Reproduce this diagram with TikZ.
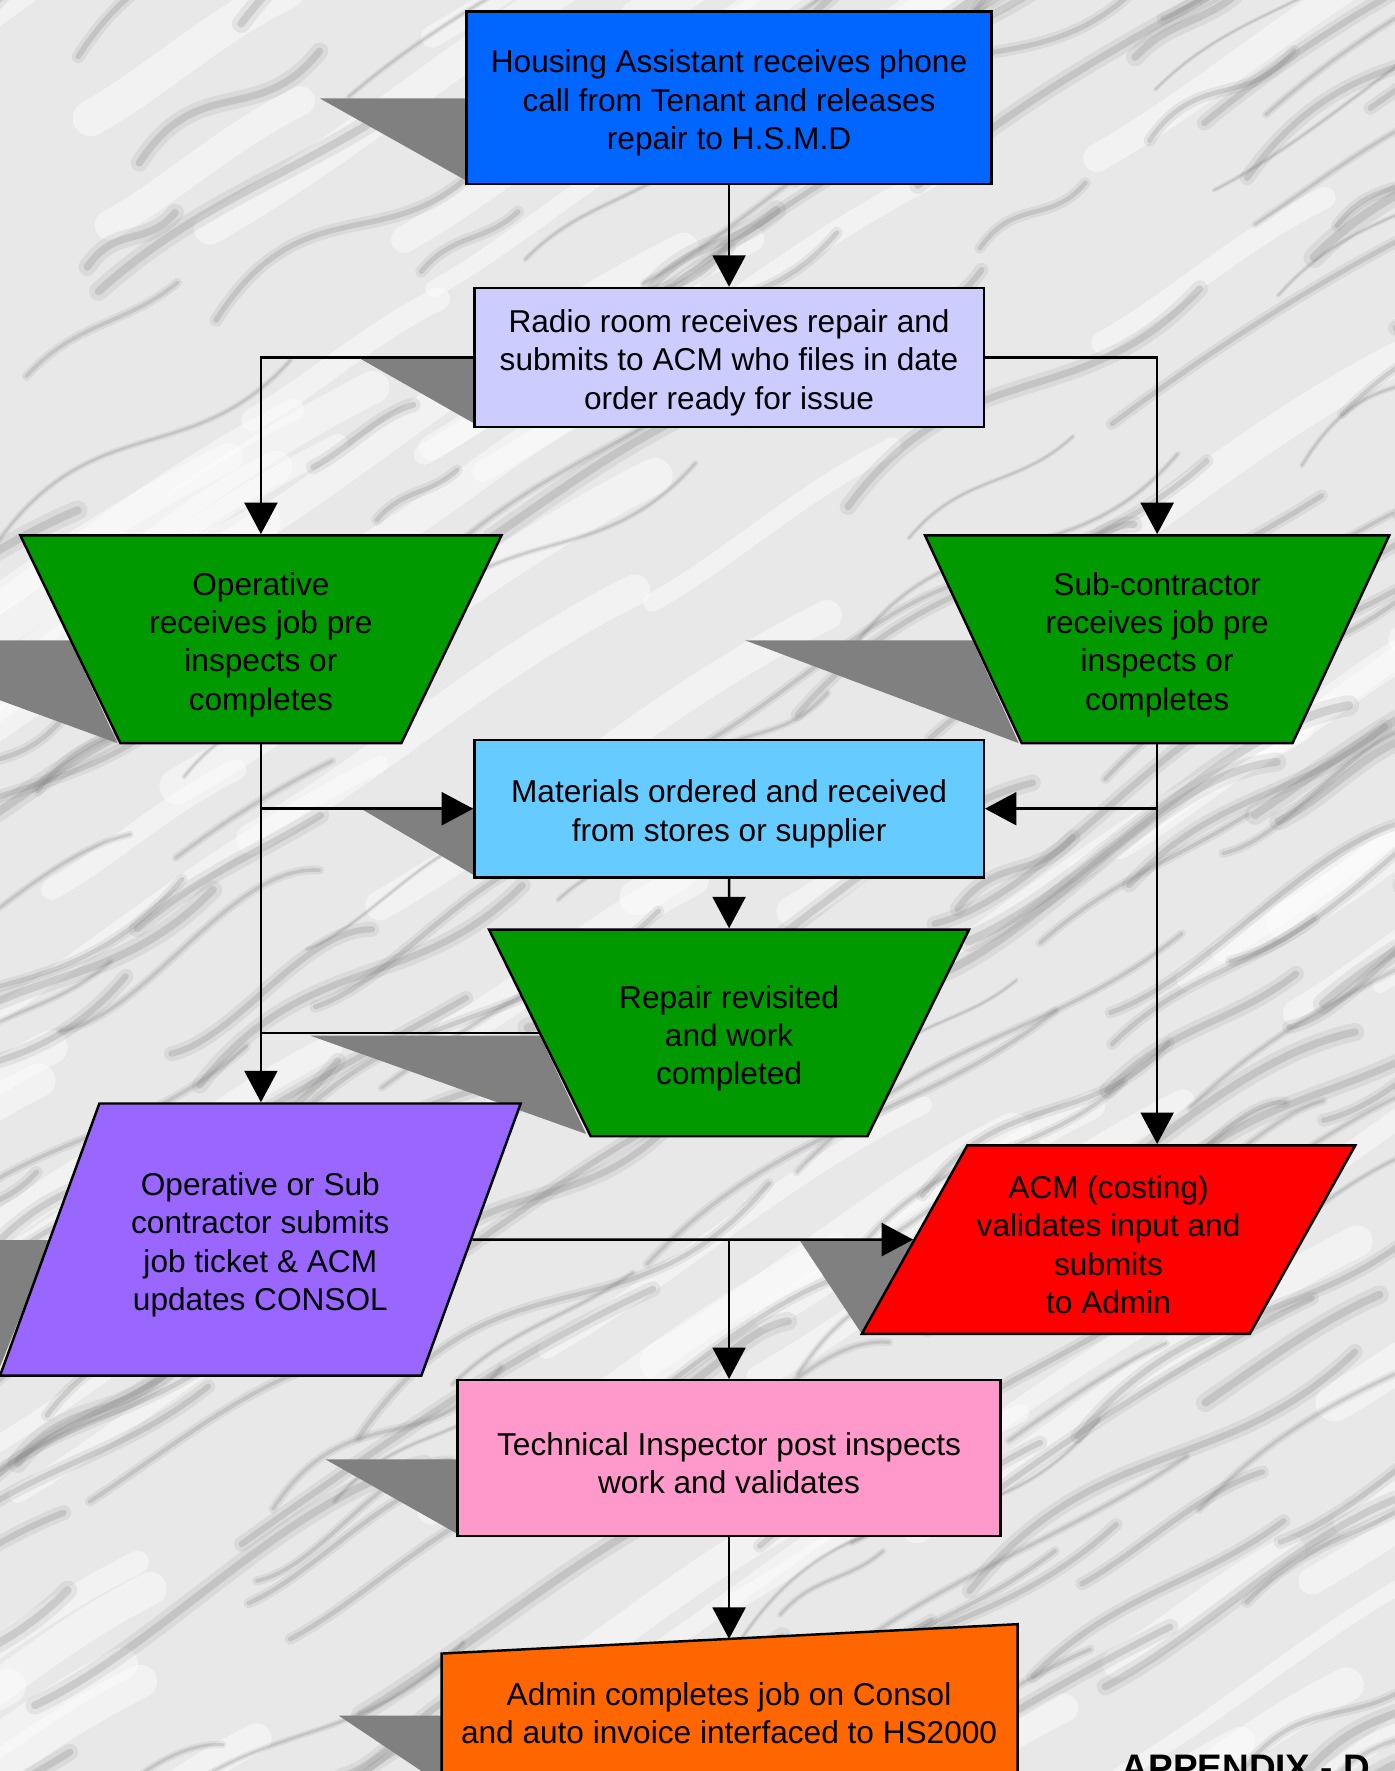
\documentclass[tikz,border=0pt]{standalone}
\usepackage{fontspec}
\setmainfont{Liberation Sans}
\usepackage{tikz}
\usetikzlibrary{shapes.geometric, arrows.meta, positioning}
\definecolor{fcBlue}{RGB}{0,102,255}
\definecolor{fcLav}{RGB}{204,204,255}
\definecolor{fcGreen}{RGB}{0,153,0}
\definecolor{fcSky}{RGB}{102,204,255}
\definecolor{fcPurple}{RGB}{153,102,255}
\definecolor{fcRed}{RGB}{255,0,0}
\definecolor{fcPink}{RGB}{255,153,204}
\definecolor{fcOrange}{RGB}{255,102,0}
\definecolor{fcShadow}{RGB}{128,128,128}
\definecolor{fcMarble}{RGB}{232,232,232}
\definecolor{fcVein}{RGB}{120,120,120}
\newcommand{\px}{0.022592cm}
\newcommand{\topline}{\rule{0pt}{19pt}}

\begin{document}
\begin{tikzpicture}[x=\px, y=-\px,
    box/.style={draw=black, line width=1.4pt, align=center, inner sep=0pt,
                font=\fontsize{18}{21.8}\selectfont},
    procbox/.style={box, rectangle},
    trapbox/.style={box, trapezium, shape border rotate=180, trapezium stretches body},
    databox/.style={box, trapezium, trapezium stretches body},
    shade/.style={fill=fcShadow},
    vein/.style={draw=fcVein, line cap=round},
    glow/.style={draw=white, opacity=0.45, line cap=round},
    flow/.style={line width=1.4pt, -{Triangle[length=0.63cm, width=0.66cm]}},
    link/.style={line width=1.4pt}
  ]
  \useasboundingbox (0,0) rectangle (1235,1568);
  % marble background
  \begin{scope}
    \clip (0,0) rectangle (1235,1568);
    \fill[fcMarble] (0,0) rectangle (1235,1568);
    \pgfmathsetseed{23}
    \foreach \k in {1,...,90} {
      \pgfmathsetmacro{\sx}{rnd*1500-250}
      \pgfmathsetmacro{\sy}{rnd*1800}
      \pgfmathsetmacro{\len}{150+rnd*300}
      \pgfmathsetmacro{\lw}{8+rnd*14}
      \draw[glow, line width=\lw pt] (\sx,\sy)
        .. controls (\sx+\len*0.35,\sy-\len*0.2) and (\sx+\len*0.6,\sy-\len*0.45) ..
        (\sx+\len,\sy-\len*0.65);
    }
    \foreach \k in {1,...,200} {
      \pgfmathsetmacro{\sx}{rnd*1500-250}
      \pgfmathsetmacro{\sy}{rnd*1800}
      \pgfmathsetmacro{\len}{70+rnd*300}
      \pgfmathsetmacro{\lw}{1+rnd*4}
      \pgfmathsetmacro{\bend}{rnd*0.5-0.25}
      \pgfmathsetmacro{\cya}{\sy-\len*(0.3+\bend)}
      \pgfmathsetmacro{\cyb}{\sy-\len*(0.4-\bend)}
      \draw[vein, opacity=0.12, line width=2.4*\lw pt] (\sx,\sy)
        .. controls (\sx+\len*0.33,\cya) and (\sx+\len*0.66,\cyb) ..
        (\sx+\len,\sy-\len*0.62);
      \draw[vein, opacity=0.22, line width=\lw pt] (\sx,\sy)
        .. controls (\sx+\len*0.33,\cya) and (\sx+\len*0.66,\cyb) ..
        (\sx+\len,\sy-\len*0.62);
    }
  \end{scope}

  % shadows
  \fill[shade] (283,87) -- (413,87) -- (413,160) -- cycle;
  \fill[shade] (318,317) -- (420,317) -- (420,375) -- cycle;
  \fill[shade] (0,567) -- (62,567) -- (104,658) -- (0,620) -- cycle;
  \fill[shade] (660,567) -- (861,567) -- (902,658) -- cycle;
  \fill[shade] (318,715) -- (420,715) -- (420,775) -- cycle;
  \fill[shade] (275,917) -- (478,917) -- (519,1004) -- cycle;
  \fill[shade] (0,1098) -- (45,1098) -- (0,1210) -- cycle;
  \fill[shade] (708,1098) -- (809,1098) -- (763,1181) -- cycle;
  \fill[shade] (288,1292) -- (405,1292) -- (405,1358) -- cycle;
  \fill[shade] (300,1519) -- (391,1519) -- (391,1580) -- cycle;

  % steps
  \node[procbox, fill=fcBlue, minimum width=465*\px, minimum height=153*\px] (hsa) at (645.5,86.5)
    {\topline Housing Assistant receives phone\\call from Tenant and releases\\repair to H.S.M.D};
  \node[procbox, fill=fcLav, minimum width=451*\px, minimum height=123*\px] (radio) at (645.5,316.5)
    {\topline Radio room receives repair and\\submits to ACM who files in date\\order ready for issue};
  \node[trapbox, fill=fcGreen, trapezium left angle=57.1, trapezium right angle=57.1,
        minimum width=426*\px, minimum height=184*\px] (oper) at (231,566)
    {\topline Operative\\receives job pre\\inspects or\\completes};
  \node[trapbox, fill=fcGreen, trapezium left angle=58, trapezium right angle=58,
        minimum width=411*\px, minimum height=184*\px] (subc) at (1024.5,566)
    {\topline Sub-contractor\\receives job pre\\inspects or\\completes};
  \node[procbox, fill=fcSky, minimum width=451*\px, minimum height=122*\px] (mat) at (645.5,716)
    {\topline Materials ordered and received\\from stores or supplier};
  \node[trapbox, fill=fcGreen, trapezium left angle=48.9, trapezium right angle=48.9,
        minimum width=425*\px, minimum height=183*\px] (revisit) at (645.5,914.5)
    {\topline Repair revisited\\and work\\completed};
  \node[databox, fill=fcPurple, trapezium left angle=57.3, trapezium right angle=122.7,
        minimum width=461*\px, minimum height=241*\px] (ticket) at (230.5,1097.5)
    {\topline Operative or Sub\\contractor submits\\job ticket \& ACM\\updates CONSOL};
  \node[databox, fill=fcRed, trapezium left angle=54.6, trapezium right angle=125.4,
        minimum width=437*\px, minimum height=167*\px] (costing) at (981.5,1097.5)
    {\topline ACM (costing)\\validates input and\\submits\\to Admin};
  \node[procbox, fill=fcPink, minimum width=481*\px, minimum height=138*\px] (tech) at (645.5,1291)
    {\topline Technical Inspector post inspects\\work and validates};
  % manual input, runs off the page
  \filldraw[fill=fcOrange, draw=black, line width=1.4pt] (391,1620) -- (391,1464) -- (901,1438) -- (901,1620);
  \node[align=center, inner sep=0pt, font=\fontsize{18}{21.8}\selectfont] (admin) at (645.5,1517)
    {Admin completes job on Consol\\and auto invoice interfaced to HS2000};
  \coordinate (admintop) at (645.5,1451);
  \node[anchor=base west, inner sep=0pt, font=\fontsize{21}{25}\selectfont\bfseries] (appx) at (993,1576)
    {APPENDIX - D};

  % connectors
  \draw[flow] (hsa) -- (radio);
  \draw[flow] (radio.west) -| (oper.north);
  \draw[flow] (radio.east) -| (subc.north);
  \draw[flow] (oper.south) -- (oper.south |- ticket.north);
  \draw[flow] (oper.south |- mat.west) -- (mat.west);
  \draw[link] (revisit.west) -- (oper.south |- revisit.west);
  \draw[flow] (subc.south) -- (subc.south |- costing.north);
  \draw[flow] (subc.south |- mat.east) -- (mat.east);
  \draw[flow] (mat) -- (revisit);
  \draw[flow] (ticket.east) -- (costing.west);
  \draw[flow] (tech.north |- ticket.east) -- (tech.north);
  \draw[flow] (tech) -- (admintop);
\end{tikzpicture}
\end{document}
